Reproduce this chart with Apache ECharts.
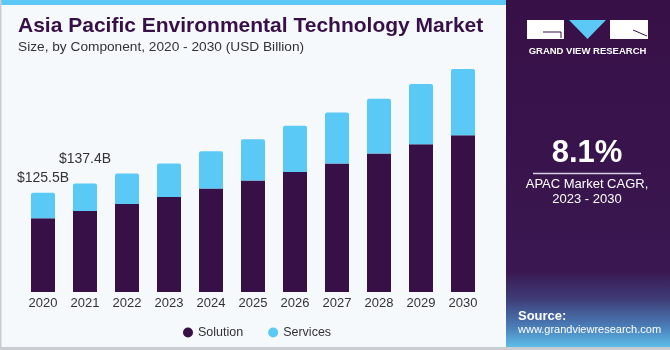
<!DOCTYPE html>
<html><head><meta charset="utf-8">
<script src="https://cdn.jsdelivr.net/npm/echarts@6/dist/echarts.min.js"></script>
<style>html,body{margin:0;padding:0;background:#f5f9fc}#c{width:670px;height:350px}</style>
</head><body><div id="c"></div>
<script>
const years = ['2020','2021','2022','2023','2024','2025','2026','2027','2028','2029','2030'];
const solution = [93.4, 102.6, 111.5, 120.4, 130.9, 141.0, 152.0, 162.6, 175.2, 187.1, 198.5];
const services = [32.1, 34.8, 38.4, 42.2, 47.4, 52.5, 58.3, 64.6, 69.3, 76.1, 83.7];
const totalLabels = ['$125.5B', '$137.4B'];
const labelDistance = [8, 17];

const chart = echarts.init(document.getElementById('c'));
const servicesData = services.map((v, i) => {
  if (i < totalLabels.length) {
    return { value: v, label: { show: true, position: 'top', distance: labelDistance[i], formatter: totalLabels[i], fontSize: 14, color: '#333', fontFamily: 'Liberation Sans' } };
  }
  return v;
});

chart.setOption({
  backgroundColor: '#f5f9fc',
  animation: false,
  textStyle: { fontFamily: 'Liberation Sans' },
  grid: { left: 22, right: 186, top: 55, bottom: 58 },
  xAxis: {
    type: 'category', data: years,
    axisLine: { show: false }, axisTick: { show: false },
    axisLabel: { fontSize: 13, color: '#333', margin: 5 }
  },
  yAxis: { type: 'value', min: 0, max: 300, show: false, splitLine: { show: false } },
  legend: {
    left: 178, top: 321, icon: 'circle', itemWidth: 10, itemHeight: 10, itemGap: 25,
    textStyle: { fontSize: 12.5, color: '#333' },
    data: ['Solution', 'Services']
  },
  series: [
    { name: 'Solution', type: 'bar', stack: 't', barWidth: 24, data: solution, itemStyle: { color: '#371047' } },
    { name: 'Services', type: 'bar', stack: 't', barWidth: 24, data: servicesData, itemStyle: { color: '#5bc9f6', borderRadius: [2, 2, 0, 0] } }
  ],
  graphic: [
    { type: 'rect', shape: { x: 0, y: 0, width: 506, height: 5 }, style: { fill: '#5bc8f5' }, silent: true },
    { type: 'rect', shape: { x: 0, y: 0, width: 1.5, height: 350 }, style: { fill: '#c9cdd2' }, silent: true },
    { type: 'rect', shape: { x: 0, y: 347, width: 670, height: 3 }, style: { fill: '#c9cdd2' }, silent: true },
    { type: 'rect', shape: { x: 506, y: 0, width: 164, height: 347 }, silent: true,
      style: { fill: new echarts.graphic.LinearGradient(0, 0, 0, 1, [
        { offset: 0, color: '#371047' }, { offset: 0.78, color: '#3a1750' },
        { offset: 0.86, color: '#3e3b76' }, { offset: 0.94, color: '#4a7cb6' }, { offset: 1, color: '#5cbcea' }]) } },
    { type: 'text', left: 18, top: 16, style: { text: 'Asia Pacific Environmental Technology Market', font: 'bold 21px "Liberation Sans"', fill: '#371047' } },
    { type: 'text', left: 18, top: 40, style: { text: 'Size, by Component, 2020 - 2030 (USD Billion)', font: '13.7px "Liberation Sans"', fill: '#333' } },
    // logo
    { type: 'rect', shape: { x: 527, y: 20, width: 37, height: 19 }, style: { fill: '#fff' }, silent: true },
    { type: 'polyline', shape: { points: [[543, 32], [561, 32], [561, 38]] }, style: { stroke: '#371047', lineWidth: 1, fill: null }, silent: true },
    { type: 'polygon', shape: { points: [[569, 20], [606, 20], [587.5, 39]] }, style: { fill: '#5bc8f5' }, silent: true },
    { type: 'rect', shape: { x: 610, y: 20, width: 38, height: 19 }, style: { fill: '#fff' }, silent: true },
    { type: 'line', shape: { x1: 633, y1: 30, x2: 647, y2: 36 }, style: { stroke: '#371047', lineWidth: 1 }, silent: true },
    { type: 'text', x: 587.5, y: 51, style: { text: 'GRAND VIEW RESEARCH', font: 'bold 9.5px "Liberation Sans"', fill: '#fff', align: 'center', verticalAlign: 'middle' } },
    // CAGR
    { type: 'text', x: 587, y: 153, style: { text: '8.1%', font: 'bold 31px "Liberation Sans"', fill: '#fff', align: 'center', verticalAlign: 'middle' } },
    { type: 'line', shape: { x1: 533, y1: 173.5, x2: 641, y2: 173.5 }, style: { stroke: '#d8d0e0', lineWidth: 1.5 }, silent: true },
    { type: 'text', x: 587, y: 184.5, style: { text: 'APAC Market CAGR,', font: '13px "Liberation Sans"', fill: '#fff', align: 'center', verticalAlign: 'middle' } },
    { type: 'text', x: 587, y: 199.5, style: { text: '2023 - 2030', font: '13px "Liberation Sans"', fill: '#fff', align: 'center', verticalAlign: 'middle' } },
    // source
    { type: 'text', x: 518, y: 316, style: { text: 'Source:', font: 'bold 13px "Liberation Sans"', fill: '#fff', verticalAlign: 'middle' } },
    { type: 'text', x: 518, y: 330, style: { text: 'www.grandviewresearch.com', font: '11px "Liberation Sans"', fill: '#fff', verticalAlign: 'middle' } }
  ]
});
</script></body></html>
